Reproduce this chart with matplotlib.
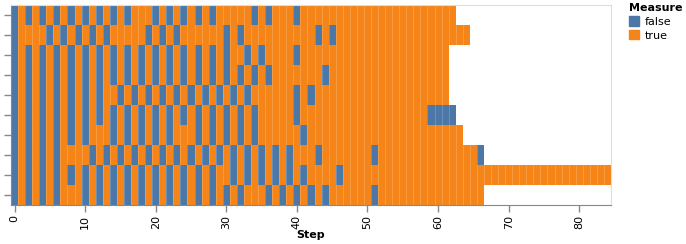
import numpy as np
import matplotlib
matplotlib.use("Agg")
import matplotlib.pyplot as plt
from matplotlib.patches import Patch

# one string per row, F = false, T = true, one char per step
row0 = "FTFTFTFTFT" "FTFTFTFTTT" "FTFTFTFTFT" "TTTTFTFTTT" "FTTTTTTTTT" "TTTTTTTTTT" "TTT"
row1 = "FTTTTFTFTF" "TFTFTTTTTF" "TFTFTTTTTT" "FTFTTTTTTT" "TTTFTFTTTT" "TTTTTTTTTT" "TTTTT"
row2 = "FTFTFTFTFT" "FTFTFTFTFT" "FTFTFTFTFT" "FTTFTFTTTT" "FTTTTTTTTT" "TTTTTTTTTT" "TT"
row3 = "FTFTFTFTFT" "FTFTFTFTFT" "FTFTFTFTFT" "FTFTFTFTTT" "TTTTFTTTTT" "TTTTTTTTTT" "TT"
row4 = "FTFTFTFTFT" "FTFTTFTFTF" "TFTFTFTFTF" "TFTFTTTTTT" "FTFTTTTTTT" "TTTTTTTTTT" "TT"
row5 = "FTFTFTFTFT" "FTFTFTFTFT" "FTFTFTFTFT" "FTFTFTTTTT" "FTTTTTTTTT" "TTTTTTTTTF" "FFF"
row6 = "FTFTFTFTFT" "FTTTFTFTFT" "FTFTTTFTFT" "FTFTFTTTTT" "TFTTTTTTTT" "TTTTTTTTTT" "TTTT"
row7 = "FTFTFTFTTT" "TFTFTFTFTF" "TFTFTFTFTF" "TFTFTFTFTF" "TTTFTTTTTT" "TFTTTTTTTT" "TTTTTTF"
row8 = "FTFTFTFTFT" "FTFTFTFTFT" "FTFTFTFTFT" "TFTFTFTFTF" "TFTTTTFTTT" "TTTTTTTTTT" "TTTTTTTTTT" "TTTTTTTTTT" "TTTTT"
row9 = "FTFTFTFTTT" "FTFTFTFTFT" "FTFTFTFTFT" "FTFTTTFTFT" "FTFTFTTTTT" "TFTTTTTTTT" "TTTTTTT"

rows = [row0, row1, row2, row3, row4, row5, row6, row7, row8, row9]
measure_labels = ["false", "true"]
colors = {"F": "#4c78a8", "T": "#f58518"}

fig = plt.figure(figsize=(6.86, 2.44), dpi=100)
ax = fig.add_axes([11/686, 39/244, 600/686, 200/244])

for r, s in enumerate(rows):
    for key in ["F", "T"]:
        steps = [i for i, c in enumerate(s) if c == key]
        ax.barh([r]*len(steps), [1]*len(steps), left=np.array(steps) - 0.5, height=1,
                color=colors[key], edgecolor="none", linewidth=0)
    # faint seams between neighbouring cells
    ax.vlines(np.arange(len(s) - 1) + 0.5, r - 0.5, r + 0.5,
              colors=(1, 1, 1, 0.22), linewidth=0.6)

ax.set_xlim(-0.5, 84.5)
ax.set_ylim(len(rows) - 0.5, -0.5)
ax.set_xticks(range(0, 85, 10))
ax.set_xticklabels([str(v) for v in range(0, 85, 10)], rotation=90, fontsize=8, color="#000")
ax.set_yticks(range(len(rows)))
ax.set_yticklabels([])
ax.tick_params(axis="both", color="#888", length=5, width=1)
ax.tick_params(axis="x", pad=2)
for side in ["top", "right"]:
    ax.spines[side].set_color("#ddd")
for side in ["left", "bottom"]:
    ax.spines[side].set_color("#888")
ax.set_xlabel("Step", fontsize=8, fontweight="bold", labelpad=1)

handles = [Patch(color=colors["F"]), Patch(color=colors["T"])]
leg = fig.legend(handles, measure_labels, title="Measure", loc="upper left",
                 bbox_to_anchor=(629/686, 1 - 3/244), frameon=False, fontsize=8,
                 title_fontproperties={"weight": "bold", "size": 8},
                 handlelength=0.9, handleheight=0.9, handletextpad=0.5,
                 labelspacing=0.3, borderaxespad=0, borderpad=0)
leg._legend_box.align = "left"

fig.savefig("out.png", dpi=100)
